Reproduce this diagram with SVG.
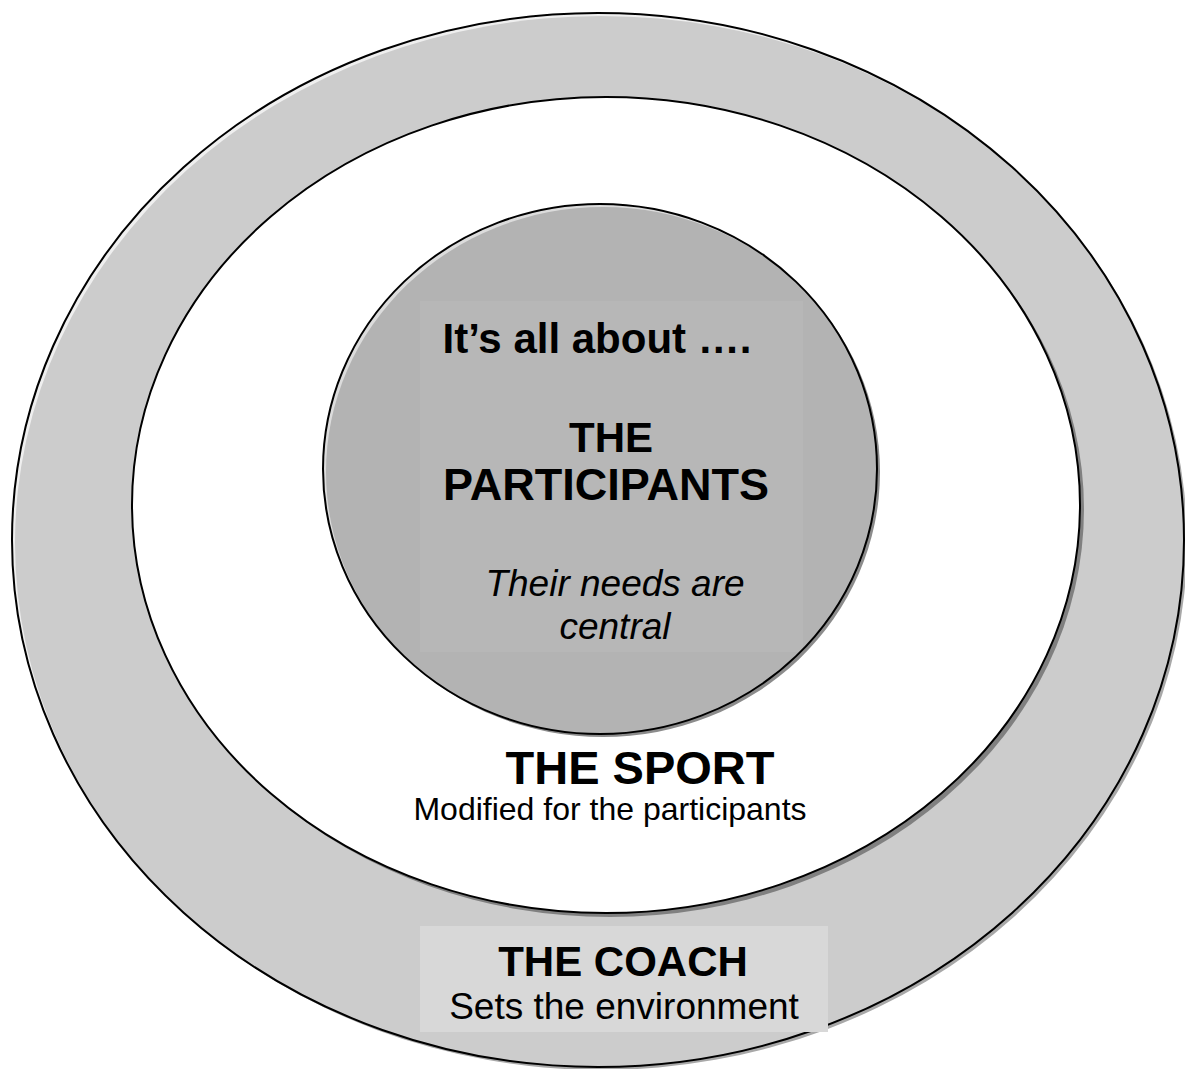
<svg xmlns="http://www.w3.org/2000/svg" width="1185" height="1069" viewBox="0 0 1185 1069">
  <style>
    .outline { stroke: #000; stroke-width: 2; }
    .bold { font-family: "Liberation Sans", Arial, sans-serif; font-weight: bold; fill: #000; text-anchor: middle; }
    .plain { font-family: "Liberation Sans", Arial, sans-serif; fill: #000; text-anchor: middle; }
    .ital { font-family: "Liberation Sans", Arial, sans-serif; font-style: italic; fill: #000; text-anchor: middle; }
  </style>
  <defs>
    <clipPath id="clip-coach"><ellipse cx="598" cy="540" rx="586" ry="527"/></clipPath>
    <clipPath id="clip-participants"><ellipse cx="600" cy="469" rx="277" ry="265"/></clipPath>
  </defs>

  <rect width="1185" height="1069" fill="#fff"/>

  <!-- outer ring: the coach -->
  <g id="coach">
    <ellipse cx="601" cy="543" rx="586" ry="527" fill="#a8a8a8"/>
    <g clip-path="url(#clip-coach)">
      <ellipse cx="598" cy="540" rx="586" ry="527" fill="#efefef"/>
      <ellipse cx="601" cy="543" rx="586" ry="527" fill="#cccccc"/>
    </g>
    <ellipse cx="598" cy="540" rx="586" ry="527" fill="none" class="outline"/>
    <rect x="420" y="926" width="408" height="106" fill="#d8d8d8"/>
    <text class="bold" x="623" y="976" font-size="42">THE COACH</text>
    <text class="plain" x="624" y="1019" font-size="37">Sets the environment</text>
  </g>

  <!-- middle ring: the sport -->
  <g id="sport">
    <ellipse cx="610" cy="509" rx="474" ry="408" fill="#808080"/>
    <ellipse cx="606" cy="505" rx="474" ry="408" fill="#fff" class="outline"/>
    <text class="bold" x="640" y="784" font-size="47">THE SPORT</text>
    <text class="plain" x="610" y="820" font-size="32">Modified for the participants</text>
  </g>

  <!-- centre: the participants -->
  <g id="participants">
    <ellipse cx="603" cy="472" rx="277" ry="265" fill="#8c8c8c"/>
    <g clip-path="url(#clip-participants)">
      <ellipse cx="600" cy="469" rx="277" ry="265" fill="#dcdcdc"/>
      <ellipse cx="603" cy="472" rx="277" ry="265" fill="#b3b3b3"/>
      <rect x="420" y="301" width="383" height="351" fill="#b7b7b7"/>
    </g>
    <ellipse cx="600" cy="469" rx="277" ry="265" fill="none" class="outline"/>
    <text class="bold" x="597" y="353" font-size="42">It’s all about ….</text>
    <text class="bold" x="611" y="452" font-size="42">THE</text>
    <text class="bold" x="606" y="500" font-size="45">PARTICIPANTS</text>
    <text class="ital" x="615" y="596" font-size="37">Their needs are</text>
    <text class="ital" x="615" y="639" font-size="37">central</text>
  </g>

  <g id="connectors"/>
</svg>
